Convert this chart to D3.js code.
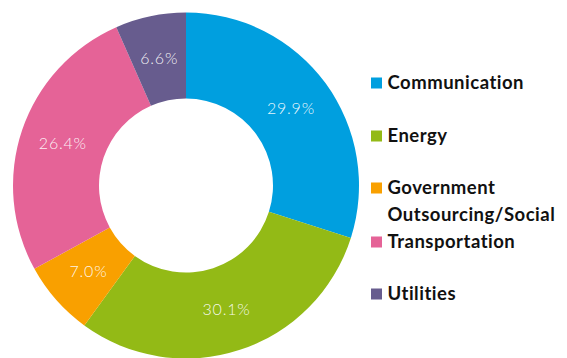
<!DOCTYPE html>
<html><head><meta charset="utf-8">
<script src="https://cdn.jsdelivr.net/npm/d3@7"></script>
<style>
html,body{margin:0;padding:0;background:#fff;}
svg{display:block;}
</style></head>
<body>
<svg id="chart" width="567" height="358"></svg>
<script>
const categories = ["Communication", "Energy", "Government Outsourcing/Social", "Transportation", "Utilities"];
const legendLines = [["Communication"], ["Energy"], ["Government", "Outsourcing/Social"], ["Transportation"], ["Utilities"]];
const values = [29.9, 30.1, 7.0, 26.4, 6.6];
const colors = ["#009fdf", "#93ba16", "#f9a000", "#e56397", "#675c8e"];

const svg = d3.select("#chart");
const cx = 186, cy = 185.5, rOuter = 173, rInner = 87;
const g = svg.append("g").attr("transform", `translate(${cx},${cy})`);

const pie = d3.pie().sort(null).value(d => d.v);
const data = pie(values.map((v, i) => ({v, c: categories[i], col: colors[i]})));
const arc = d3.arc().innerRadius(rInner).outerRadius(rOuter);
const labelArc = d3.arc().innerRadius((rInner + rOuter) / 2).outerRadius((rInner + rOuter) / 2);

g.selectAll("path").data(data).join("path")
  .attr("d", arc).attr("fill", d => d.data.col);

g.selectAll("text").data(data).join("text")
  .attr("transform", d => `translate(${labelArc.centroid(d)})`)
  .attr("text-anchor", "middle").attr("dy", "0.35em")
  .attr("fill", "#fff").attr("fill-opacity", 0.92)
  .style("font-family", "Lato, 'Open Sans', sans-serif")
  .style("font-weight", 300).style("font-size", "16px")
  .style("letter-spacing", "0.8px")
  .text(d => d.data.v.toFixed(1) + "%");

const legendY = [83, 136, 188, 242, 294];
const lg = svg.append("g");
legendLines.forEach((lines, i) => {
  lg.append("rect").attr("x", 371).attr("y", legendY[i] - 5.5).attr("width", 11).attr("height", 11).attr("fill", colors[i]);
  lines.forEach((t, j) => {
    lg.append("text").attr("x", 387.5).attr("y", legendY[i] + j * 26.5).attr("dy", "0.35em")
      .attr("fill", "#111")
      .style("font-family", "Lato, 'Open Sans', sans-serif")
      .style("font-weight", 700).style("font-size", "18.5px")
      .style("letter-spacing", "0.5px")
      .text(t);
  });
});
</script>
</body></html>
